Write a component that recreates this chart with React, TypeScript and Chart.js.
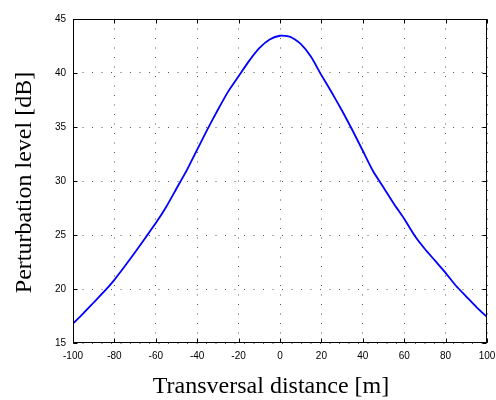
import React, { useEffect, useRef } from 'react';
import { Chart, registerables } from 'chart.js';

Chart.register(...registerables);

const distances = [-100, -95, -90, -85, -80, -75, -70, -65, -60, -55, -50, -45, -40, -35, -30, -25, -20, -15, -10, -5, 0, 5, 10, 15, 20, 25, 30, 35, 40, 45, 50, 55, 60, 65, 70, 75, 80, 85, 90, 95, 100];
const levels = [16.8, 17.75, 18.75, 19.75, 20.85, 22.1, 23.4, 24.75, 26.1, 27.6, 29.3, 31.0, 32.9, 34.8, 36.6, 38.3, 39.7, 41.1, 42.3, 43.1, 43.45, 43.35, 42.7, 41.5, 39.8, 38.2, 36.5, 34.7, 32.8, 30.9, 29.4, 27.9, 26.5, 24.95, 23.7, 22.6, 21.5, 20.3, 19.3, 18.3, 17.4];
const xTicks = [-100, -80, -60, -40, -20, 0, 20, 40, 60, 80, 100];
const yTicks = [15, 20, 25, 30, 35, 40, 45];
const xTitle = 'Transversal distance [m]';
const yTitle = 'Perturbation level [dB]';

const titleFont = '24px "Times New Roman", "Liberation Serif", serif';

const framePlugin = {
  id: 'frame',
  afterDatasetsDraw(chart: any) {
    const { ctx, chartArea, scales } = chart;
    const { left, right, top, bottom } = chartArea;
    const sx = scales.x;
    const sy = scales.y;
    ctx.save();
    ctx.strokeStyle = '#000';
    ctx.lineWidth = 1;
    const L = Math.round(left) + 0.5;
    const R = Math.round(right) - 0.5;
    const T = Math.round(top) + 0.5;
    const B = Math.round(bottom) - 0.5;
    ctx.strokeRect(L, T, R - L, B - T);
    const tl = 4;
    ctx.beginPath();
    xTicks.forEach((v) => {
      const px = Math.round(sx.getPixelForValue(v)) + 0.5;
      ctx.moveTo(px, B);
      ctx.lineTo(px, B - tl);
      ctx.moveTo(px, T);
      ctx.lineTo(px, T + tl);
    });
    yTicks.forEach((v) => {
      const py = Math.round(sy.getPixelForValue(v)) + 0.5;
      ctx.moveTo(L, py);
      ctx.lineTo(L + tl, py);
      ctx.moveTo(R, py);
      ctx.lineTo(R - tl, py);
    });
    ctx.stroke();

    // axis titles
    ctx.fillStyle = '#000';
    ctx.font = titleFont;
    ctx.textAlign = 'center';
    ctx.textBaseline = 'alphabetic';
    ctx.fillText(xTitle, (left + right) / 2 - 9, bottom + 50);
    ctx.translate(31, (top + bottom) / 2 + 1.5);
    ctx.rotate(-Math.PI / 2);
    ctx.fillText(yTitle, 0, 0);
    ctx.restore();
  },
};

export default function App() {
  const ref = useRef<HTMLCanvasElement | null>(null);
  useEffect(() => {
    if (!ref.current) return;
    const chart = new Chart(ref.current, {
      type: 'line',
      data: {
        datasets: [
          {
            data: distances.map((d, i) => ({ x: d, y: levels[i] })),
            borderColor: '#0000ff',
            borderWidth: 1.8,
            pointRadius: 0,
            tension: 0.2,
            fill: false,
          },
        ],
      },
      options: {
        responsive: false,
        animation: false,
        layout: { padding: { left: 0, right: 9, top: 19, bottom: 0 } },
        plugins: { legend: { display: false }, tooltip: { enabled: false } },
        scales: {
          x: {
            type: 'linear',
            min: -100,
            max: 100,
            afterBuildTicks: (s: any) => {
              s.ticks = xTicks.map((v) => ({ value: v }));
            },
            afterFit: (s: any) => {
              s.height = 57;
              s.paddingLeft = 0;
              s.paddingRight = 0;
            },
            ticks: {
              color: '#000',
              font: { family: 'Arial, "Liberation Sans", sans-serif', size: 10 },
              padding: 7,
              maxRotation: 0,
            },
            grid: { color: 'rgba(0,0,0,0.65)', lineWidth: 1, drawTicks: false },
            border: { display: false, dash: [1, 8.5] },
          },
          y: {
            type: 'linear',
            min: 15,
            max: 45,
            afterBuildTicks: (s: any) => {
              s.ticks = yTicks.map((v) => ({ value: v }));
            },
            afterFit: (s: any) => {
              s.width = 73;
              s.paddingTop = 0;
              s.paddingBottom = 0;
            },
            ticks: {
              color: '#000',
              font: { family: 'Arial, "Liberation Sans", sans-serif', size: 10 },
              padding: 7,
            },
            grid: { color: 'rgba(0,0,0,0.65)', lineWidth: 1, drawTicks: false },
            border: { display: false, dash: [1, 8.5] },
          },
        },
      },
      plugins: [framePlugin],
    });
    return () => chart.destroy();
  }, []);
  return (
    <div style={{ position: 'fixed', left: 0, top: 0, width: 496, height: 400, background: '#fff' }}>
      <canvas ref={ref} width={496} height={400} />
    </div>
  );
}
